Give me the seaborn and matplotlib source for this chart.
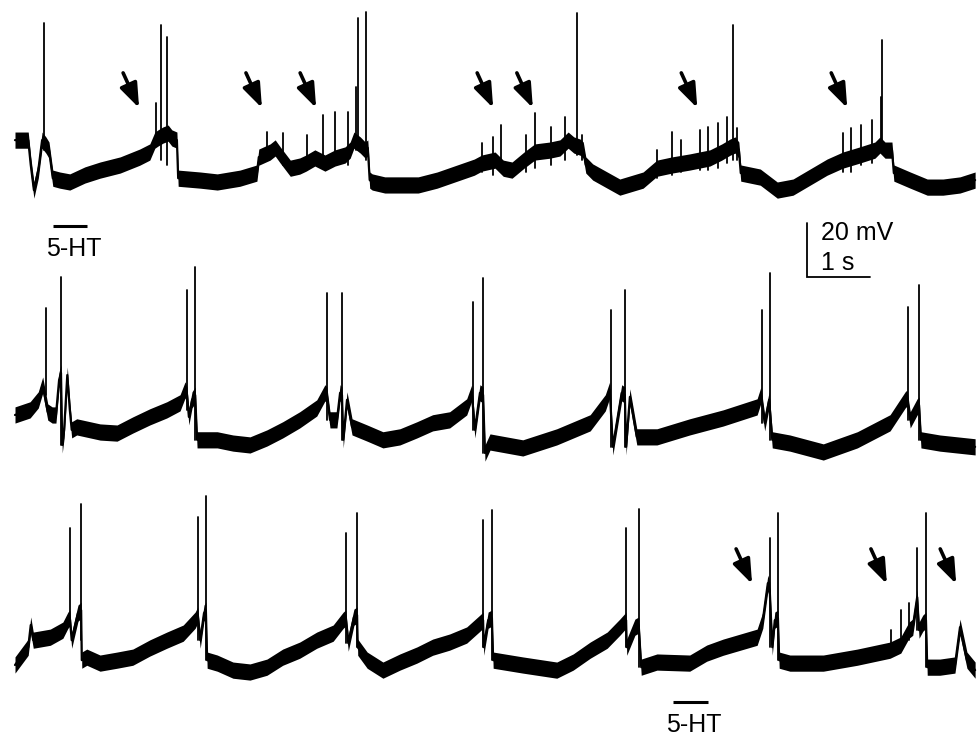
import numpy as np
import pandas as pd
import matplotlib
matplotlib.use('Agg')
import matplotlib.pyplot as plt
import seaborn as sns

# Intracellular recording, three consecutive sweeps (time in s, membrane potential in mV
# relative to each sweep's most negative level)

# slow part of the trace (noisy band)
sweep1_trace = [
    (0, 18.5), (0.21, 18.5), (0.25, 9.3), (0.30, 0), (0.37, 7.4), (0.43, 18.5), (0.49, 16.7),
    (0.54, 14.8), (0.60, 4.4), (0.71, 3.7), (0.87, 3.0), (1.11, 5.6), (1.35, 7.4), (1.67, 9.3),
    (1.98, 12.2), (2.14, 14.1), (2.22, 18.5), (2.27, 19.3), (2.35, 20.4), (2.43, 21.1),
    (2.49, 19.3), (2.57, 18.5), (2.59, 4.4), (2.94, 3.7), (3.21, 3.0), (3.57, 4.4), (3.84, 6.3),
    (3.87, 12.2), (4.05, 14.1), (4.13, 15.6), (4.21, 13.0), (4.37, 8.1), (4.52, 8.9),
    (4.62, 10.0), (4.76, 11.9), (4.92, 10.0), (5.08, 11.9), (5.24, 13.0), (5.32, 14.8),
    (5.38, 18.5), (5.48, 16.7), (5.56, 14.8), (5.60, 15.6), (5.63, 3.7), (5.67, 3.0),
    (5.87, 1.9), (6.11, 1.9), (6.40, 1.9), (6.70, 3.7), (7.29, 8.5), (7.41, 10.0), (7.62, 11.1),
    (7.75, 8.1), (7.89, 7.4), (8.08, 11.1), (8.25, 14.1), (8.49, 14.8), (8.65, 15.6),
    (8.78, 18.5), (8.87, 16.7), (8.97, 15.9), (9.02, 14.8), (9.06, 9.3), (9.17, 6.7),
    (9.40, 3.7), (9.60, 1.1), (9.97, 3.7), (10.19, 8.1), (10.43, 9.3), (10.71, 10.4),
    (11.03, 11.9), (11.22, 14.1), (11.35, 15.9), (11.43, 16.7), (11.49, 14.8), (11.52, 6.3),
    (11.83, 4.8), (12.10, 0), (12.35, 1.1), (12.62, 4.8), (12.89, 8.5), (13.14, 11.1),
    (13.41, 13.0), (13.65, 14.8), (13.73, 16.7), (13.81, 14.8), (13.92, 14.8), (13.95, 6.3),
    (14.21, 3.7), (14.48, 1.1), (14.73, 1.1), (15.00, 1.9), (15.24, 3.7),
]
sweep2_trace = [
    (0, 14.8), (0.24, 16.7), (0.37, 20.4), (0.44, 25.9), (0.52, 15.9), (0.59, 14.8), (0.65, 14.8),
    (0.70, 27.8), (0.73, 30.4), (0.75, 3.7), (0.78, 9.3), (0.83, 29.6), (0.87, 16.7), (0.90, 9.3),
    (0.98, 10.4), (1.35, 8.5), (1.62, 8.1), (1.87, 11.1), (2.14, 14.1), (2.41, 16.7),
    (2.62, 19.3), (2.70, 24.1), (2.73, 22.2), (2.76, 14.1), (2.81, 20.4), (2.86, 22.2),
    (2.89, 5.6), (3.21, 5.6), (3.46, 4.4), (3.73, 3.7), (4.00, 6.3), (4.25, 9.3), (4.52, 13.0),
    (4.79, 17.4), (4.92, 23.0), (4.95, 22.2), (5.00, 13.0), (5.11, 13.0), (5.16, 23.0),
    (5.19, 22.2), (5.21, 5.6), (5.27, 20.4), (5.35, 10.4), (5.59, 8.1), (5.84, 5.6), (6.11, 6.7),
    (6.38, 9.3), (6.63, 11.9), (6.90, 13.0), (7.17, 17.8), (7.25, 23.0), (7.30, 9.3),
    (7.38, 23.0), (7.43, 22.2), (7.46, 0.7), (7.54, 4.8), (8.06, 2.6), (8.60, 6.7), (9.13, 11.9),
    (9.37, 19.3), (9.44, 24.1), (9.49, 3.0), (9.63, 23.0), (9.68, 22.2), (9.70, 3.0),
    (9.76, 21.5), (9.87, 6.7), (10.19, 6.7), (10.71, 10.4), (11.24, 13.7), (11.78, 17.8),
    (11.84, 22.2), (11.90, 11.9), (11.97, 20.4), (12.02, 5.6), (12.30, 4.4), (12.83, 1.1),
    (13.37, 5.6), (13.89, 11.9), (14.13, 20.4), (14.16, 21.1), (14.21, 13.0), (14.32, 17.8),
    (14.35, 18.5), (14.38, 5.6), (14.68, 4.4), (15.24, 3.0),
]
sweep3_trace = [
    (0, 5.6), (0.21, 12.2), (0.25, 20.4), (0.29, 14.8), (0.56, 15.9), (0.76, 18.5), (0.84, 22.2),
    (0.87, 23.0), (0.90, 14.8), (1.00, 24.8), (1.05, 25.9), (1.06, 7.4), (1.14, 8.5),
    (1.35, 6.3), (1.62, 7.4), (1.87, 8.5), (2.14, 11.9), (2.41, 14.8), (2.67, 17.4),
    (2.86, 22.2), (2.90, 24.1), (2.94, 14.8), (3.00, 24.8), (3.03, 25.9), (3.05, 7.4),
    (3.21, 6.3), (3.46, 3.7), (3.73, 3.0), (4.00, 4.8), (4.25, 8.5), (4.52, 11.1), (4.79, 14.8),
    (5.05, 17.4), (5.21, 22.2), (5.25, 23.0), (5.29, 13.7), (5.38, 23.3), (5.43, 24.1),
    (5.44, 12.2), (5.59, 7.4), (5.84, 3.7), (6.11, 6.7), (6.38, 9.3), (6.63, 12.2), (6.90, 14.1),
    (7.17, 16.7), (7.38, 21.1), (7.43, 22.2), (7.44, 12.2), (7.51, 22.2), (7.57, 23.0),
    (7.59, 7.4), (8.06, 5.6), (8.60, 3.7), (8.86, 6.7), (9.13, 11.1), (9.40, 14.8), (9.60, 19.6),
    (9.70, 22.2), (9.71, 12.2), (9.84, 19.6), (9.90, 20.4), (9.94, 4.8), (10.19, 6.7),
    (10.71, 6.3), (10.98, 10.0), (11.24, 12.2), (11.78, 15.9), (11.87, 22.2), (11.95, 35.9),
    (11.98, 33.3), (12.02, 12.2), (12.06, 22.2), (12.11, 23.0), (12.13, 7.4), (12.30, 6.3),
    (12.83, 6.3), (13.37, 8.5), (13.89, 11.1), (14.06, 13.0), (14.19, 18.5), (14.25, 19.6),
    (14.32, 30.7), (14.35, 18.5), (14.41, 21.1), (14.46, 22.2), (14.48, 4.8), (14.68, 4.8),
    (14.92, 5.6), (15.00, 19.6), (15.11, 7.4), (15.24, 3.7),
]

# spikes and fast events: (time, foot mV, peak mV)
sweep1_spikes = [
    (0.46, 14.8, 61.9), (2.24, 18.5, 32.2), (2.32, 11.1, 61.1), (2.41, 9.3, 56.7),
    (4.00, 11.1, 21.5), (4.25, 9.3, 21.1), (4.63, 7.4, 20.4), (4.89, 9.3, 27.8),
    (5.08, 9.3, 28.9), (5.29, 9.3, 28.9), (5.41, 14.8, 38.1), (5.44, 14.8, 63.7),
    (5.57, 11.1, 65.9), (7.41, 6.7, 17.4), (7.59, 5.6, 19.6), (7.71, 8.1, 24.1),
    (8.11, 6.7, 20.4), (8.25, 8.1, 28.5), (8.51, 9.3, 23.3), (8.73, 11.1, 27.0),
    (8.92, 13.0, 65.6), (9.00, 11.1, 20.4), (10.19, 4.4, 14.8), (10.43, 5.6, 21.5),
    (10.57, 6.7, 18.5), (10.87, 7.4, 22.2), (11.00, 7.4, 23.3), (11.16, 8.1, 24.8),
    (11.30, 10.0, 27.0), (11.40, 11.1, 61.1), (11.46, 11.1, 23.0), (13.14, 6.7, 21.1),
    (13.27, 6.7, 23.0), (13.43, 9.3, 24.1), (13.60, 10.0, 25.9), (13.75, 14.8, 34.4),
    (13.76, 14.8, 55.6),
]
sweep2_spikes = [
    (0.49, 22.2, 54.4), (0.73, 3.7, 65.9), (2.73, 16.7, 61.1), (2.86, 5.6, 69.6),
    (4.95, 13.0, 60.0), (5.19, 5.6, 60.0), (7.27, 9.3, 56.7), (7.43, 0.7, 65.6),
    (9.46, 3.0, 53.7), (9.68, 3.0, 61.1), (11.86, 11.9, 53.7), (11.98, 5.6, 67.4),
    (14.17, 13.0, 54.8), (14.35, 5.6, 63.0),
]
sweep3_spikes = [
    (0.87, 22.2, 56.3), (1.05, 14.8, 65.2), (2.90, 14.8, 60.4), (3.03, 7.4, 68.1),
    (5.25, 13.7, 54.4), (5.43, 12.2, 61.9), (7.43, 12.2, 59.3), (7.57, 7.4, 63.0),
    (9.70, 12.2, 56.3), (9.90, 4.8, 63.3), (11.98, 12.2, 52.6), (12.11, 7.4, 61.9),
    (13.90, 9.3, 18.5), (14.06, 11.1, 25.9), (14.19, 14.8, 28.5), (14.32, 18.5, 48.9),
    (14.46, 4.8, 61.9),
]

# arrows mark small events (tip time in s, tip level in mV)
sweep1_arrows = [1.97, 3.92, 4.78, 7.59, 8.22, 10.83, 13.21]
sweep3_arrows = [11.70, 13.84, 14.94]
sweep1_arrow_level = 30.4
sweep3_arrow_level = 35.6

# 5-HT application bars (start, end in s; level in mV)
sweep1_5ht = (0.60, 1.14, -13.3)
sweep3_5ht = (10.44, 11.00, -8.1)

# vertical offset of each sweep on the page (mV)
sweep_offsets = [-70.4, -168.5, -251.9]

traces = [sweep1_trace, sweep2_trace, sweep3_trace]
spikes = [sweep1_spikes, sweep2_spikes, sweep3_spikes]
noise_halfwidth = 3.0  # mV, thickness of the noisy band

env_rows = []
for i, (tr, off) in enumerate(zip(traces, sweep_offsets)):
    for t, v in tr:
        env_rows.append({'sweep': i, 't': t, 'V': v + off})
env_df = pd.DataFrame(env_rows)

spk_rows = []
sid = 0
for i, (sp, off) in enumerate(zip(spikes, sweep_offsets)):
    for t, lo, hi in sp:
        spk_rows.append({'sid': sid, 't': t, 'V': lo + off})
        spk_rows.append({'sid': sid, 't': t, 'V': hi + off})
        sid += 1
spk_df = pd.DataFrame(spk_rows)

sns.set_theme(style='white')
plt.rcParams['font.family'] = ['Liberation Sans', 'DejaVu Sans']
plt.rcParams['text.color'] = 'black'

fig = plt.figure(figsize=(9.77, 7.37), dpi=100)
ax = fig.add_axes([0, 0, 1, 1])

# noisy band: vertical thickness, so fast transitions stay thin
for i, grp in env_df.groupby('sweep'):
    ax.fill_between(grp['t'], grp['V'] - noise_halfwidth, grp['V'] + noise_halfwidth,
                    color='black', linewidth=0)
sns.lineplot(data=env_df, x='t', y='V', units='sweep', estimator=None, sort=False,
             color='black', linewidth=1.6, legend=False, ax=ax)
sns.lineplot(data=spk_df, x='t', y='V', units='sid', estimator=None, sort=False,
             color='black', linewidth=1.3, legend=False, ax=ax)

# arrows
arrow_kw = dict(arrowstyle='-|>,head_length=0.7,head_width=0.26', color='black',
                lw=2.6, mutation_scale=21, shrinkA=0, shrinkB=0)
for tips, lvl, off in [(sweep1_arrows, sweep1_arrow_level, sweep_offsets[0]),
                       (sweep3_arrows, sweep3_arrow_level, sweep_offsets[2])]:
    for t in tips:
        ax.annotate('', xy=(t, lvl + off), xytext=(t - 0.254, lvl + off + 13),
                    arrowprops=arrow_kw)

# 5-HT bars
for (t0, t1, lvl), off in [(sweep1_5ht, sweep_offsets[0]), (sweep3_5ht, sweep_offsets[2])]:
    ax.plot([t0, t1], [lvl + off, lvl + off], color='black', lw=2.2, solid_capstyle='butt')
    ax.text((t0 + t1) / 2 + 0.06, lvl + off - 11.2, '5-HT', ha='center', va='baseline',
            fontsize=18, color='black')

# scale bar: 20 mV, 1 s
sb_t, sb_v = 12.57, -12.2 + sweep_offsets[0]
ax.plot([sb_t, sb_t, sb_t + 1], [sb_v, sb_v - 20, sb_v - 20], color='black', lw=1.3,
        solid_joinstyle='miter')
ax.text(sb_t + 0.22, sb_v + 0.8, '20 mV', ha='left', va='top', fontsize=18, color='black')
ax.text(sb_t + 0.22, sb_v - 10.3, '1 s', ha='left', va='top', fontsize=18, color='black')

ax.set_xlim(-15 / 63, 962 / 63)
ax.set_ylim(-737 / 2.7, 0)
ax.axis('off')

fig.savefig('out.png', dpi=100)
